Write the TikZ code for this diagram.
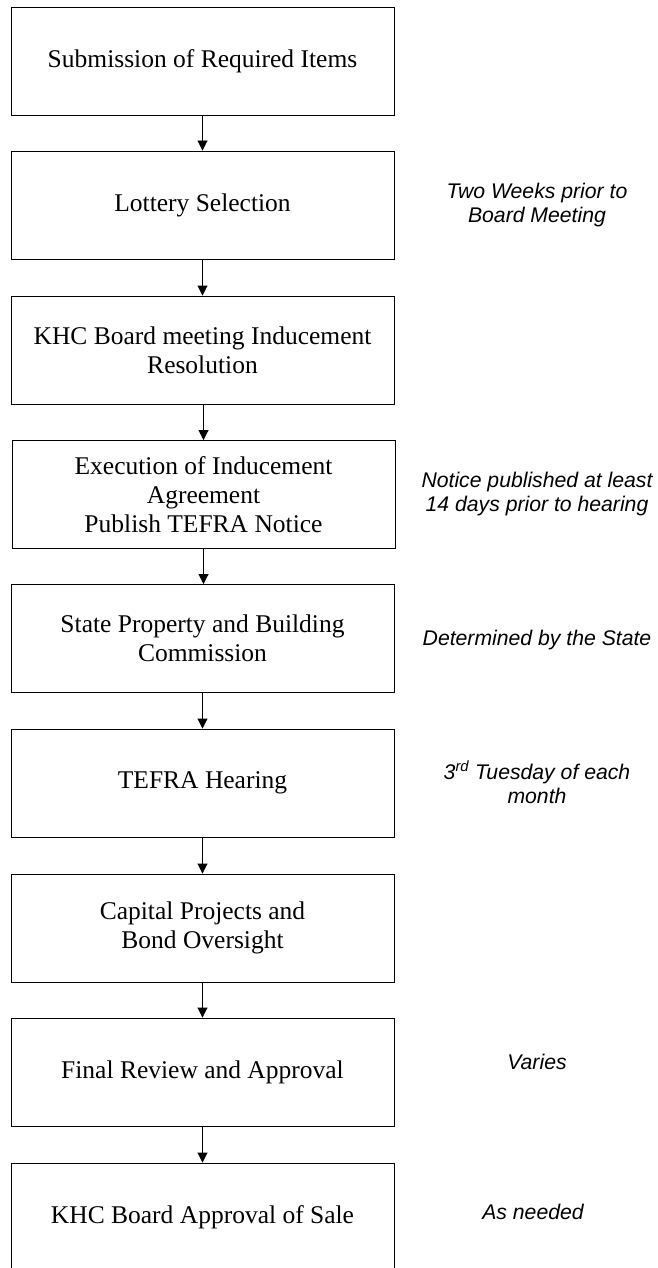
\documentclass[tikz,border=0pt]{standalone}
\usepackage{fontspec}
\setmainfont{Liberation Serif}
\newfontfamily\arialfont{Liberation Sans}
\usetikzlibrary{arrows.meta}
\tikzset{
  stepbox/.style={draw=black, line width=0.9pt, minimum width=383pt, minimum height=108pt, inner sep=0pt, align=center, font=\fontsize{25.5}{29}\selectfont},
  note/.style={inner sep=0pt, align=center, font=\arialfont\itshape\fontsize{21.2}{24}\selectfont},
  flow/.style={line width=0.9pt, -{Triangle[width=10pt,length=10pt]}}
}
\begin{document}
\begin{tikzpicture}[x=1pt,y=-1pt]
\useasboundingbox (0,0) rectangle (658,1268);
\clip (0,0) rectangle (658,1268);
\node[stepbox] (b1) at (202.5,61) {Submission of Required Items};
\node[stepbox] (b2) at (202.5,205) {Lottery Selection};
\node[stepbox] (b3) at (202.5,350) {KHC Board meeting Inducement\\Resolution};
\node[stepbox] (b4) at (203.5,494.5) {Execution of Inducement\\Agreement\\Publish TEFRA Notice};
\node[stepbox] (b5) at (202.5,638.5) {State Property and Building\\Commission};
\node[stepbox] (b6) at (202.5,783) {TEFRA Hearing};
\node[stepbox] (b7) at (202.5,928) {Capital Projects and\\Bond Oversight};
\node[stepbox] (b8) at (202.5,1072) {Final Review and Approval};
\node[stepbox] (b9) at (202.5,1217) {KHC Board Approval of Sale};
\draw[flow] (b1) -- (b2);
\draw[flow] (b2) -- (b3);
\draw[flow] (b3.south -| b4.north) -- (b4.north);
\draw[flow] (b4.south) -- (b4.south |- b5.north);
\draw[flow] (b5) -- (b6);
\draw[flow] (b6) -- (b7);
\draw[flow] (b7) -- (b8);
\draw[flow] (b8) -- (b9);
\node[note] (n2) at (537,205) {Two Weeks prior to\\Board Meeting};
\node[note] (n4) at (537,494) {Notice published at least\\14 days prior to hearing};
\node[note] (n5) at (537,640) {Determined by the State};
\node[note] (n6) at (537,782) {3\textsuperscript{rd} Tuesday of each\\month};
\node[note] (n8) at (537,1062) {Varies};
\node[note] (n9) at (533,1212) {As needed};
\end{tikzpicture}
\end{document}
